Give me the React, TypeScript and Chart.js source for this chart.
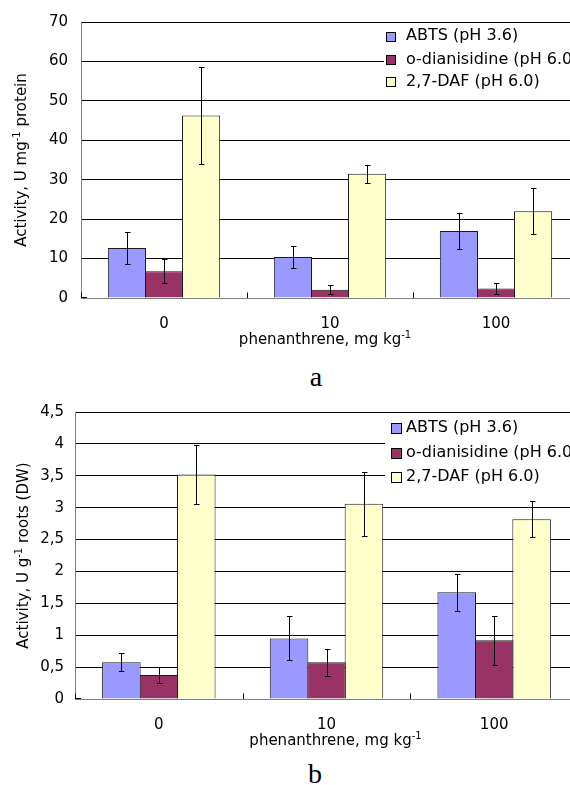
import React, { useEffect, useRef } from 'react';
import { Chart, registerables } from 'chart.js';

Chart.register(...registerables);

// ---------- data ----------
const categories = ['0', '10', '100'];
const seriesLabels = ['ABTS (pH 3.6)', 'o-dianisidine (pH 6.0)', '2,7-DAF (pH 6.0)'];
const seriesColors = ['#9999FF', '#993366', '#FFFFCC'];

// chart a: Activity, U mg-1 protein
const abtsA = [12.7, 10.4, 17.0];
const abtsErrA = [4.0, 2.9, 4.5];
const dianA = [6.8, 2.1, 2.4];
const dianErrA = [3.0, 1.2, 1.5];
const dafA = [46.3, 31.5, 22.0];
const dafErrA = [12.2, 2.3, 5.8];
const yMaxA = 70;
const yStepA = 10;

// chart b: Activity, U g-1 roots (DW)
const abtsB = [0.575, 0.95, 1.675];
const abtsErrB = [0.14, 0.345, 0.29];
const dianB = [0.375, 0.575, 0.92];
const dianErrB = [0.12, 0.21, 0.38];
const dafB = [3.52, 3.06, 2.82];
const dafErrB = [0.47, 0.5, 0.28];
const yMaxB = 4.5;
const yStepB = 0.5;

const xTitleParts = [{ text: 'phenanthrene, mg kg' }, { text: '-1', sup: true }];
const yTitlePartsA = [{ text: 'Activity, U mg' }, { text: '-1', sup: true }, { text: ' protein' }];
const yTitlePartsB = [{ text: 'Activity, U g' }, { text: '-1', sup: true }, { text: ' roots (DW)' }];
const captionA = 'a';
const captionB = 'b';

// ---------- styling ----------
const FONT = '"DejaVu Sans", "Liberation Sans", Arial, sans-serif';
const FS = 15;
const LEGEND_FS = 16;
const SUP_FS = 10;

type Part = { text: string; sup?: boolean };

function drawRich(ctx: CanvasRenderingContext2D, parts: Part[], cx: number, baseY: number) {
  let total = 0;
  const widths = parts.map((p) => {
    ctx.font = `${p.sup ? SUP_FS : FS}px ${FONT}`;
    const w = ctx.measureText(p.text).width;
    total += w;
    return w;
  });
  let x = cx - total / 2;
  ctx.textAlign = 'left';
  ctx.textBaseline = 'alphabetic';
  parts.forEach((p, i) => {
    ctx.font = `${p.sup ? SUP_FS : FS}px ${FONT}`;
    ctx.fillText(p.text, x, baseY - (p.sup ? 6 : 0));
    x += widths[i];
  });
}

const customPlugin = {
  id: 'custom',
  afterDatasetsDraw(chart: any, _args: any, opts: any) {
    const ctx: CanvasRenderingContext2D = chart.ctx;
    const ys = chart.scales.y;
    const xs = chart.scales.x;
    const area = chart.chartArea;
    ctx.save();
    ctx.strokeStyle = '#000';
    ctx.lineWidth = 1;
    // error bars
    chart.data.datasets.forEach((ds: any, i: number) => {
      const meta = chart.getDatasetMeta(i);
      meta.data.forEach((el: any, j: number) => {
        const v = ds.data[j];
        const e = ds.errors[j];
        const x = Math.round(el.x) + 0.5;
        const y1 = Math.round(ys.getPixelForValue(v + e)) + 0.5;
        const y2 = Math.round(ys.getPixelForValue(Math.max(v - e, 0))) + 0.5;
        ctx.beginPath();
        ctx.moveTo(x, y1);
        ctx.lineTo(x, y2);
        ctx.moveTo(x - 2.5, y1);
        ctx.lineTo(x + 3, y1);
        ctx.moveTo(x - 2.5, y2);
        ctx.lineTo(x + 3, y2);
        ctx.stroke();
      });
    });
    // category boundary tick marks (inside)
    const n = chart.data.labels.length;
    const bottom = Math.round(area.bottom) - 0.5;
    const bounds: number[] = [xs.left];
    for (let i = 1; i < n; i++) {
      bounds.push((xs.getPixelForValue(i - 1) + xs.getPixelForValue(i)) / 2);
    }
    bounds.push(xs.right);
    ctx.beginPath();
    bounds.forEach((b) => {
      const bx = Math.round(b) + 0.5;
      ctx.moveTo(bx, bottom - 5);
      ctx.lineTo(bx, bottom + 0.5);
    });
    const lx = Math.round(area.left);
    ctx.moveTo(lx, bottom);
    ctx.lineTo(lx + 6, bottom);
    ctx.stroke();
    ctx.restore();
  },
  afterDraw(chart: any, _args: any, opts: any) {
    const ctx: CanvasRenderingContext2D = chart.ctx;
    const area = chart.chartArea;
    ctx.save();
    ctx.fillStyle = '#000';
    // x title
    drawRich(ctx, opts.xTitle, (area.left + area.right) / 2 + opts.xTitleDx, area.bottom + opts.xTitleDy);
    // y title
    ctx.save();
    ctx.translate(opts.yTitleX, (area.top + area.bottom) / 2);
    ctx.rotate(-Math.PI / 2);
    drawRich(ctx, opts.yTitle, 0, 0);
    ctx.restore();
    // legend
    const lg = opts.legend;
    ctx.fillStyle = '#fff';
    ctx.fillRect(lg.x, lg.y, lg.w, lg.h);
    chart.data.datasets.forEach((ds: any, i: number) => {
      const cy = lg.rows[i];
      const bx = Math.round(lg.boxX) + 0.5;
      const by = Math.round(cy - lg.box / 2) + 0.5;
      ctx.fillStyle = ds.backgroundColor;
      ctx.fillRect(bx, by, lg.box, lg.box);
      ctx.strokeStyle = '#000';
      ctx.lineWidth = 1;
      ctx.strokeRect(bx, by, lg.box, lg.box);
      ctx.fillStyle = '#000';
      ctx.font = `${LEGEND_FS}px ${FONT}`;
      ctx.textAlign = 'left';
      ctx.textBaseline = 'middle';
      ctx.fillText(ds.label, lg.textX, cy);
    });
    ctx.restore();
  },
};

function makeConfig(p: any) {
  const mk = (i: number, data: number[], errors: number[]) => ({
    label: seriesLabels[i],
    data,
    errors,
    backgroundColor: seriesColors[i],
    borderColor: '#1a1a1a',
    borderWidth: 1,
    categoryPercentage: 0.67,
    barPercentage: 1.03,
  });
  return {
    type: 'bar',
    data: {
      labels: categories,
      datasets: [mk(0, p.abts, p.abtsErr), mk(1, p.dian, p.dianErr), mk(2, p.daf, p.dafErr)],
    },
    options: {
      animation: false,
      responsive: false,
      events: [],
      layout: { padding: { top: p.padTop, right: p.padRight, left: 0, bottom: 0 } },
      plugins: {
        legend: { display: false },
        tooltip: { enabled: false },
        title: { display: false },
        custom: {
          xTitle: xTitleParts,
          xTitleDx: p.xTitleDx,
          xTitleDy: 46,
          yTitle: p.yTitle,
          yTitleX: p.yTitleX,
          legend: p.legend,
        },
      },
      scales: {
        x: {
          grid: { display: false, drawTicks: false },
          border: { display: true, color: '#808080', width: 1 },
          ticks: { color: '#000', font: { family: FONT, size: FS }, padding: 17, maxRotation: 0 },
          afterFit: (s: any) => {
            s.height = p.xHeight;
          },
        },
        y: {
          min: 0,
          max: p.yMax,
          ticks: {
            stepSize: p.yStep,
            color: '#000',
            font: { family: FONT, size: FS },
            padding: p.yPad,
            callback: (v: any) => String(v).replace('.', ','),
          },
          grid: {
            drawTicks: false,
            lineWidth: 1,
            color: (c: any) => (c.tick && c.tick.value === 0 ? '#808080' : '#000'),
          },
          border: { display: true, color: '#808080', width: 1 },
          afterFit: (s: any) => {
            s.width = p.yWidth;
          },
        },
      },
    },
    plugins: [customPlugin],
  };
}

function BarChart({ cfg, width, height, top }: { cfg: any; width: number; height: number; top: number }) {
  const ref = useRef<HTMLCanvasElement | null>(null);
  useEffect(() => {
    if (!ref.current) return;
    const chart = new Chart(ref.current, cfg);
    return () => chart.destroy();
  }, [cfg]);
  return (
    <canvas
      ref={ref}
      width={width}
      height={height}
      style={{ position: 'absolute', left: 0, top, width, height, display: 'block' }}
    />
  );
}

const cfgA = makeConfig({
  abts: abtsA, abtsErr: abtsErrA, dian: dianA, dianErr: dianErrA, daf: dafA, dafErr: dafErrA,
  yMax: yMaxA, yStep: yStepA, yPad: 13, yWidth: 81, xHeight: 62, padTop: 19, padRight: 11,
  xTitleDx: -5, yTitle: yTitlePartsA, yTitleX: 25.5,
  legend: { x: 384, y: 25, w: 210, h: 68, rows: [36.3, 59.5, 81.7], box: 9, boxX: 386, textX: 406 },
});

const cfgB = makeConfig({
  abts: abtsB, abtsErr: abtsErrB, dian: dianB, dianErr: dianErrB, daf: dafB, dafErr: dafErrB,
  yMax: yMaxB, yStep: yStepB, yPad: 11, yWidth: 75, xHeight: 56, padTop: 32, padRight: 12,
  xTitleDx: 9, yTitle: yTitlePartsB, yTitleX: 28,
  legend: { x: 385, y: 35, w: 210, h: 75, rows: [48.3, 72.5, 96.7], box: 10, boxX: 391, textX: 406 },
});

const captionStyle: React.CSSProperties = {
  position: 'absolute',
  width: 100,
  textAlign: 'center',
  fontFamily: '"Liberation Serif", "Times New Roman", serif',
  fontSize: 28,
  lineHeight: '28px',
  color: '#000',
};

export default function App() {
  return (
    <div
      style={{
        position: 'absolute',
        left: 0,
        top: 0,
        width: 570,
        height: 785,
        overflow: 'hidden',
        background: '#fff',
      }}
    >
      <BarChart cfg={cfgA} width={590} height={360} top={0} />
      <div style={{ ...captionStyle, left: 266, top: 363 }}>{captionA}</div>
      <BarChart cfg={cfgB} width={590} height={375} top={380} />
      <div style={{ ...captionStyle, left: 265, top: 760 }}>{captionB}</div>
    </div>
  );
}
